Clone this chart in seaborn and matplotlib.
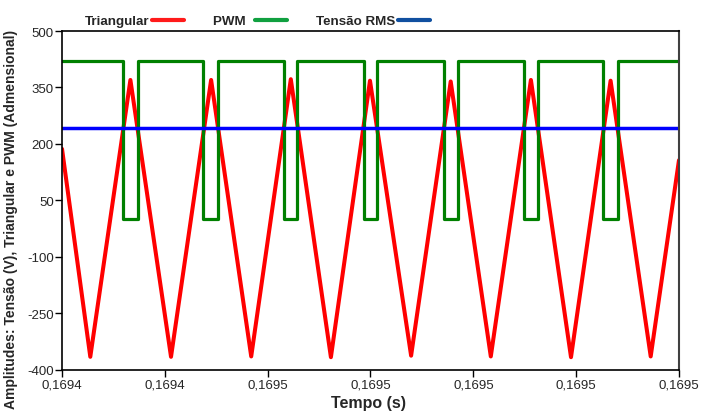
import matplotlib
matplotlib.use("Agg")
import matplotlib.pyplot as plt
import matplotlib.ticker as mticker
from matplotlib.lines import Line2D
import seaborn as sns
import pandas as pd

# dados
t_tri = [0.1694150, 0.1694205, 0.1694283, 0.1694362, 0.1694440, 0.1694518,
         0.1694595, 0.1694673, 0.1694749, 0.1694829, 0.1694906, 0.1694984,
         0.1695062, 0.1695140, 0.1695217, 0.1695295, 0.1695350]
v_tri = [187, -365, 370, -365, 370, -364, 372, -366, 368, -362, 366, -364,
         370, -366, 368, -364, 157]

t_pwm = [0.1694150, 0.1694269, 0.1694297, 0.1694425, 0.1694453, 0.1694582,
         0.1694608, 0.1694737, 0.1694763, 0.1694893, 0.1694920, 0.1695049,
         0.1695076, 0.1695203, 0.1695231, 0.1695350]
v_pwm = [420, 0, 420, 0, 420, 0, 420, 0, 420, 0, 420, 0, 420, 0, 420, 420]

t_rms = [0.1694150, 0.1695350]
v_rms = [242, 242]

y_ticks = [-400, -250, -100, 50, 200, 350, 500]
x_ticks = [0.169415, 0.169435, 0.169455, 0.169475, 0.169495, 0.169515, 0.169535]

df_tri = pd.DataFrame({"t": t_tri, "v": v_tri})
df_pwm = pd.DataFrame({"t": t_pwm, "v": v_pwm})
df_rms = pd.DataFrame({"t": t_rms, "v": v_rms})

sns.set_theme(style="white")
plt.rcParams['font.family'] = ['Liberation Sans', 'DejaVu Sans']
plt.rcParams['axes.unicode_minus'] = False

fig = plt.figure(figsize=(7.08, 4.14), dpi=100)
ax = fig.add_axes([0.0876, 0.1039, 0.8714, 0.8188])

sns.lineplot(data=df_tri, x="t", y="v", color="#ff0000", linewidth=2.9, ax=ax, sort=False)
sns.lineplot(data=df_pwm, x="t", y="v", color="#008000", linewidth=2.3, ax=ax,
             sort=False, drawstyle="steps-post")
sns.lineplot(data=df_rms, x="t", y="v", color="#0000ff", linewidth=2.5, ax=ax, sort=False)

ax.set_xlim(x_ticks[0], x_ticks[-1])
ax.set_ylim(-400, 500)
ax.set_yticks(y_ticks)
ax.set_xticks(x_ticks)
ax.xaxis.set_major_formatter(mticker.FuncFormatter(lambda v, p: f"{v:.4f}".replace(".", ",")))

ax.tick_params(axis="both", which="major", direction="out", length=5, width=1,
               color="black", labelsize=9.5, pad=1, left=True, bottom=True)
for lado in ["left", "bottom", "top"]:
    ax.spines[lado].set_color("black")
    ax.spines[lado].set_linewidth(1.2)
ax.spines["right"].set_color("#404040")
ax.spines["right"].set_linewidth(1.5)

ax.set_xlabel("Tempo (s)", fontsize=11.5, fontweight="bold")
ax.xaxis.set_label_coords(0.496, -0.075)
ax.set_ylabel("Amplitudes: Tensão (V), Triangular e PWM (Admensional)",
              fontsize=10.0, fontweight="bold")
ax.yaxis.set_label_coords(-0.072, 0.447)

handles = [Line2D([], [], color="#ff1a1a", linewidth=3),
           Line2D([], [], color="#10a040", linewidth=3),
           Line2D([], [], color="#1050a0", linewidth=3)]
fig.legend(handles, ["Triangular", "PWM  ", "Tensão RMS"], loc="upper left",
           bbox_to_anchor=(0.103, 0.99), ncol=3, frameon=False, markerfirst=False,
           prop={"weight": "bold", "size": 9.6}, handlelength=2.4, handletextpad=0.15,
           columnspacing=2.2)

fig.savefig("out.png", dpi=100)
